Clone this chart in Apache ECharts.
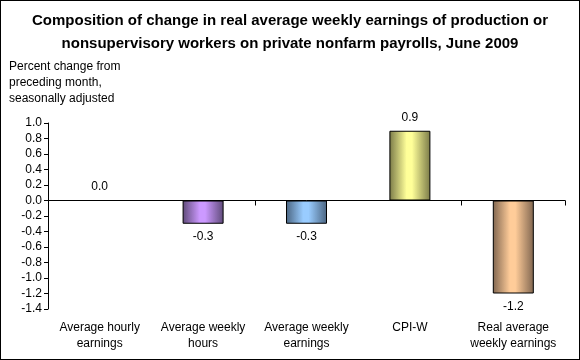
<!DOCTYPE html>
<html><head><meta charset="utf-8">
<script src="https://cdn.jsdelivr.net/npm/echarts@6/dist/echarts.min.js"></script>
<style>html,body{margin:0;padding:0;background:#fff}#c{width:580px;height:360px;box-sizing:border-box;border:1px solid #000}</style>
</head><body><div id="c"></div>
<script>
const categories = ['Average hourly\nearnings', 'Average weekly\nhours', 'Average weekly\nearnings', 'CPI-W', 'Real average\nweekly earnings'];
const values = [0.0, -0.3, -0.3, 0.9, -1.2];
const barColors = ['#FFFFFF', '#CC99FF', '#99CCFF', '#FFFF99', '#FFCC99'];
const darkColors = ['#FFFFFF', '#5E4A78', '#4A6480', '#7A7A48', '#806650'];
const yTicks = { min: -1.4, max: 1.0, interval: 0.2 };

function grad(i) {
  return new echarts.graphic.LinearGradient(0, 0, 1, 0, [
    { offset: 0, color: darkColors[i] },
    { offset: 0.42, color: barColors[i] },
    { offset: 0.55, color: barColors[i] },
    { offset: 1, color: darkColors[i] }
  ]);
}

const chart = echarts.init(document.getElementById('c'));
const font = 'Arial, "Liberation Sans", sans-serif';
chart.setOption({
  animation: false,
  textStyle: { fontFamily: font },
  title: {
    text: 'Composition of change in real average weekly earnings of production or\nnonsupervisory workers on private nonfarm payrolls, June 2009',
    left: 'center', top: 3,
    textStyle: { fontSize: 15, fontWeight: 'bold', color: '#000', lineHeight: 23, fontFamily: font }
  },
  graphic: [{
    type: 'text', left: 8, top: 58,
    style: { text: 'Percent change from\npreceding month,\nseasonally adjusted', fontSize: 12, lineHeight: 16, fill: '#000', fontFamily: font }
  }],
  grid: { left: 47, right: 14, top: 122, bottom: 50 },
  xAxis: [{
    type: 'category', data: categories, position: 'bottom',
    axisLine: { show: false, onZero: false }, axisTick: { show: false },
    axisLabel: { fontSize: 12, color: '#000', lineHeight: 16, interval: 0, margin: 11 }
  }, {
    type: 'category', data: categories, position: 'bottom',
    axisLine: { show: true, onZero: true, lineStyle: { color: '#000', width: 1 } },
    axisTick: { show: true, length: 5, lineStyle: { color: '#000' } },
    axisLabel: { show: false }
  }],
  yAxis: {
    type: 'value', min: yTicks.min, max: yTicks.max, interval: yTicks.interval,
    axisLine: { show: true, lineStyle: { color: '#000' } },
    axisTick: { show: true, length: 4, lineStyle: { color: '#000' } },
    splitLine: { show: false },
    axisLabel: { fontSize: 12, color: '#000', margin: 6, formatter: v => v.toFixed(1) }
  },
  series: [{
    type: 'bar', xAxisIndex: 0, barWidth: 41,
    data: values.map((v, i) => ({
      value: v,
      itemStyle: { color: v === 0 ? 'transparent' : grad(i), borderColor: v === 0 ? 'transparent' : '#000', borderWidth: 1 },
      label: { position: v < 0 ? 'bottom' : 'top' }
    })),
    label: { show: true, fontSize: 12, color: '#000', distance: 7, formatter: p => p.value.toFixed(1) }
  }]
});
</script></body></html>
